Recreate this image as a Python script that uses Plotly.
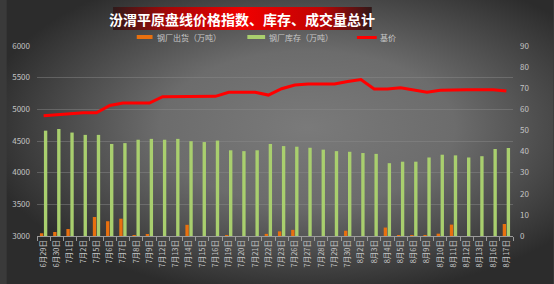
import base64
import plotly.graph_objects as go

dates = ["6月29日", "6月30日", "7月1日", "7月2日", "7月5日", "7月6日", "7月7日", "7月8日", "7月9日",
         "7月12日", "7月13日", "7月14日", "7月15日", "7月16日", "7月19日", "7月20日", "7月21日",
         "7月22日", "7月23日", "7月26日", "7月27日", "7月28日", "7月29日", "7月30日", "8月2日",
         "8月3日", "8月4日", "8月5日", "8月6日", "8月9日", "8月10日", "8月11日", "8月12日",
         "8月13日", "8月16日", "8月17日"]

shipments = [1.3, 1.9, 3.3, 0, 9.0, 7.0, 8.2, 0.3, 0.6, 0, 0, 5.3, 0, 0, 0.2, 0, 0, 1.0, 2.2,
             2.9, 0, 0, 0, 2.5, 0, 0, 4.0, 0.2, 0.3, 0.3, 1.1, 5.4, 0, 0, 0, 5.7]

inventory = [49.9, 50.7, 49.0, 47.9, 47.9, 43.6, 44.0, 45.6, 46.0, 45.6, 46.0, 44.9, 44.5, 45.2,
             40.6, 40.2, 40.6, 43.6, 42.6, 42.3, 41.8, 40.9, 40.2, 39.9, 39.3, 38.9, 34.5, 35.2,
             35.2, 37.2, 38.5, 38.2, 37.2, 37.8, 41.2, 41.7]

base_price = [4900, 4920, 4930, 4945, 4945, 5060, 5100, 5100, 5100, 5200, 5200, 5200, 5205, 5205,
              5270, 5270, 5270, 5225, 5325, 5385, 5400, 5400, 5400, 5440, 5470, 5320, 5320, 5340,
              5300, 5270, 5300, 5310, 5310, 5310, 5310, 5290]

left_ticks = [3000, 3500, 4000, 4500, 5000, 5500, 6000]
right_ticks = [0, 10, 20, 30, 40, 50, 60, 70, 80, 90]

title_text = "汾渭平原盘线价格指数、库存、成交量总计"
names = ["钢厂出货（万吨）", "钢厂库存（万吨）", "基价"]

W, H = 554, 284
ML, MR, MT, MB = 31, 41, 46, 48
PW, PH = W - ML - MR, H - MT - MB

def px_x(x):
    return (x - ML) / PW

def px_y(y):
    return (H - MB - y) / PH

svg = f'''<svg xmlns="http://www.w3.org/2000/svg" width="{W}" height="{H}" viewBox="0 0 {W} {H}" preserveAspectRatio="none">
<defs>
<radialGradient id="bg" cx="0.55" cy="0.45" r="0.6">
<stop offset="0" stop-color="#7a7a7a"/>
<stop offset="0.45" stop-color="#6c6c6c"/>
<stop offset="1" stop-color="#2c2c2c"/>
</radialGradient>
<linearGradient id="ban" x1="0" y1="0" x2="1" y2="0">
<stop offset="0" stop-color="#2e1a1a"/>
<stop offset="0.2" stop-color="#a00808"/>
<stop offset="0.5" stop-color="#f00000"/>
<stop offset="0.8" stop-color="#c00404"/>
<stop offset="1" stop-color="#301818"/>
</linearGradient>
</defs>
<rect x="0" y="0" width="{W}" height="{H}" fill="url(#bg)"/>
<rect x="108" y="7" width="262" height="23" fill="url(#ban)"/>
</svg>'''
src = "data:image/svg+xml;base64," + base64.b64encode(svg.encode()).decode()

fig = go.Figure()
fig.add_trace(go.Bar(x=dates, y=shipments, name=names[0], marker_color="#e8700f",
                     marker_line_width=0, yaxis="y2", showlegend=False))
fig.add_trace(go.Bar(x=dates, y=inventory, name=names[1], marker_color="#a9cf6e",
                     marker_line_width=0, yaxis="y2", showlegend=False))
fig.add_trace(go.Scatter(x=dates, y=base_price, name=names[2], mode="lines",
                         line=dict(color="#ff0000", width=3), showlegend=False))

tick_font = dict(family="Noto Sans CJK SC", size=8, color="#c4c4c4")

fig.update_layout(
    width=W, height=H,
    margin=dict(l=ML, r=MR, t=MT, b=MB, pad=0),
    paper_bgcolor="#3a3a3a",
    plot_bgcolor="rgba(0,0,0,0)",
    barmode="group", bargap=0.4, bargroupgap=0.15,
    xaxis=dict(type="category", range=[-0.5, len(dates) - 0.5], tickangle=-90,
               tickfont=dict(family="Noto Sans CJK SC", size=7.5, color="#c4c4c4"),
               showline=True, linecolor="#9a9a9a", linewidth=1,
               ticks="outside", tickson="boundaries", ticklen=4, tickcolor="#9a9a9a",
               showgrid=False, fixedrange=True),
    yaxis=dict(range=[3000, 6000], tickvals=left_ticks, tickfont=tick_font,
               showgrid=True, gridcolor="rgba(140,140,140,0.45)", gridwidth=1,
               zeroline=False, showline=False, ticks="", ticklabelstandoff=6),
    yaxis2=dict(range=[0, 90], tickvals=right_ticks, tickfont=tick_font, overlaying="y",
                side="right", showgrid=False, zeroline=False, showline=False, ticks="",
                ticklabelstandoff=6),
    images=[dict(source=src, xref="paper", yref="paper", x=px_x(0), y=px_y(0),
                 sizex=W / PW, sizey=H / PH, xanchor="left", yanchor="top",
                 sizing="stretch", layer="below")],
    showlegend=False,
)

fig.add_annotation(text=f"<b>{title_text}</b>", xref="paper", yref="paper",
                   x=px_x(239), y=px_y(18.5), xanchor="center", yanchor="middle",
                   showarrow=False,
                   font=dict(family="Noto Sans CJK SC", size=14, color="#ffffff"))

legend_font = dict(family="Noto Sans CJK SC", size=8, color="#c8c8c8")
# legend swatches
fig.add_shape(type="rect", xref="paper", yref="paper", x0=px_x(132), x1=px_x(148),
              y0=px_y(39), y1=px_y(35), fillcolor="#e8700f", line_width=0)
fig.add_shape(type="rect", xref="paper", yref="paper", x0=px_x(244), x1=px_x(262),
              y0=px_y(39), y1=px_y(35), fillcolor="#a9cf6e", line_width=0)
fig.add_shape(type="line", xref="paper", yref="paper", x0=px_x(355), x1=px_x(375),
              y0=px_y(37.5), y1=px_y(37.5), line=dict(color="#ff0000", width=3))
for x, t in [(150, names[0]), (264, names[1]), (376, names[2])]:
    fig.add_annotation(text=t, xref="paper", yref="paper", x=px_x(x), y=px_y(37.5),
                       xanchor="left", yanchor="middle", showarrow=False, font=legend_font)

fig.write_html("out.html")
